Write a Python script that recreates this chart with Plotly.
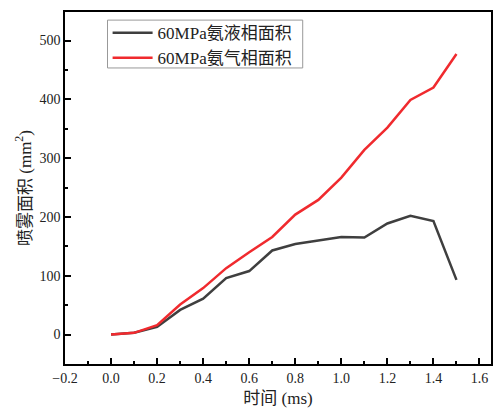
import plotly.graph_objects as go

time_ms = [0.0, 0.1, 0.2, 0.3, 0.4, 0.5, 0.6, 0.7, 0.8, 0.9, 1.0, 1.1, 1.2, 1.3, 1.4, 1.5]
liquid_area = [0, 3, 13, 42, 61, 96, 108, 143, 154, 160, 166, 165, 189, 202, 193, 93]
gas_area = [0, 3, 16, 51, 79, 113, 140, 166, 204, 229, 267, 314, 352, 399, 420, 477]
names = ["60MPa氨液相面积", "60MPa氨气相面积"]

FONT = "Liberation Serif, Times New Roman, Noto Sans CJK SC, serif"

fig = go.Figure()
fig.add_trace(go.Scatter(x=time_ms, y=liquid_area, mode="lines", name=names[0],
                         line=dict(color="#3f3f3f", width=2.5)))
fig.add_trace(go.Scatter(x=time_ms, y=gas_area, mode="lines", name=names[1],
                         line=dict(color="#f02a2e", width=2.5)))

axis_common = dict(showgrid=False, zeroline=False, showline=True, linecolor="black",
                   linewidth=1.5, mirror=True, ticks="inside", ticklen=6, tickwidth=1.5,
                   tickcolor="black", tickfont=dict(family=FONT, size=14, color="#222"))

fig.update_xaxes(range=[-0.2, 1.65], dtick=0.2, tick0=0, tickformat=".1f",
                 minor=dict(ticks="inside", dtick=0.1, ticklen=3, tickcolor="black", tickwidth=1.5),
                 title=dict(text="时间 (ms)", font=dict(family=FONT, size=17, color="#222"), standoff=8),
                 **axis_common)
fig.update_yaxes(range=[-50, 548.5], dtick=100, tick0=0,
                 minor=dict(ticks="inside", dtick=50, ticklen=3, tickcolor="black", tickwidth=1.5),
                 title=dict(text="喷雾面积 (mm<sup>2</sup>)", font=dict(family=FONT, size=17, color="#222"), standoff=4),
                 **axis_common)

# legend frame
fig.add_shape(type="rect", xref="paper", yref="paper",
              x0=0.0998, x1=0.558, y0=0.841, y1=0.977,
              line=dict(color="#999", width=1), fillcolor="white", layer="above")

fig.update_layout(
    width=494, height=412,
    margin=dict(l=65, r=1, t=12, b=48),
    plot_bgcolor="white", paper_bgcolor="white",
    font=dict(family=FONT),
    legend=dict(x=0.1, y=0.991, xanchor="left", yanchor="top",
                borderwidth=0, bgcolor="rgba(0,0,0,0)",
                font=dict(family=FONT, size=17, color="#222"),
                tracegroupgap=0, itemwidth=40),
    showlegend=True,
)

fig.write_html("out.html")
